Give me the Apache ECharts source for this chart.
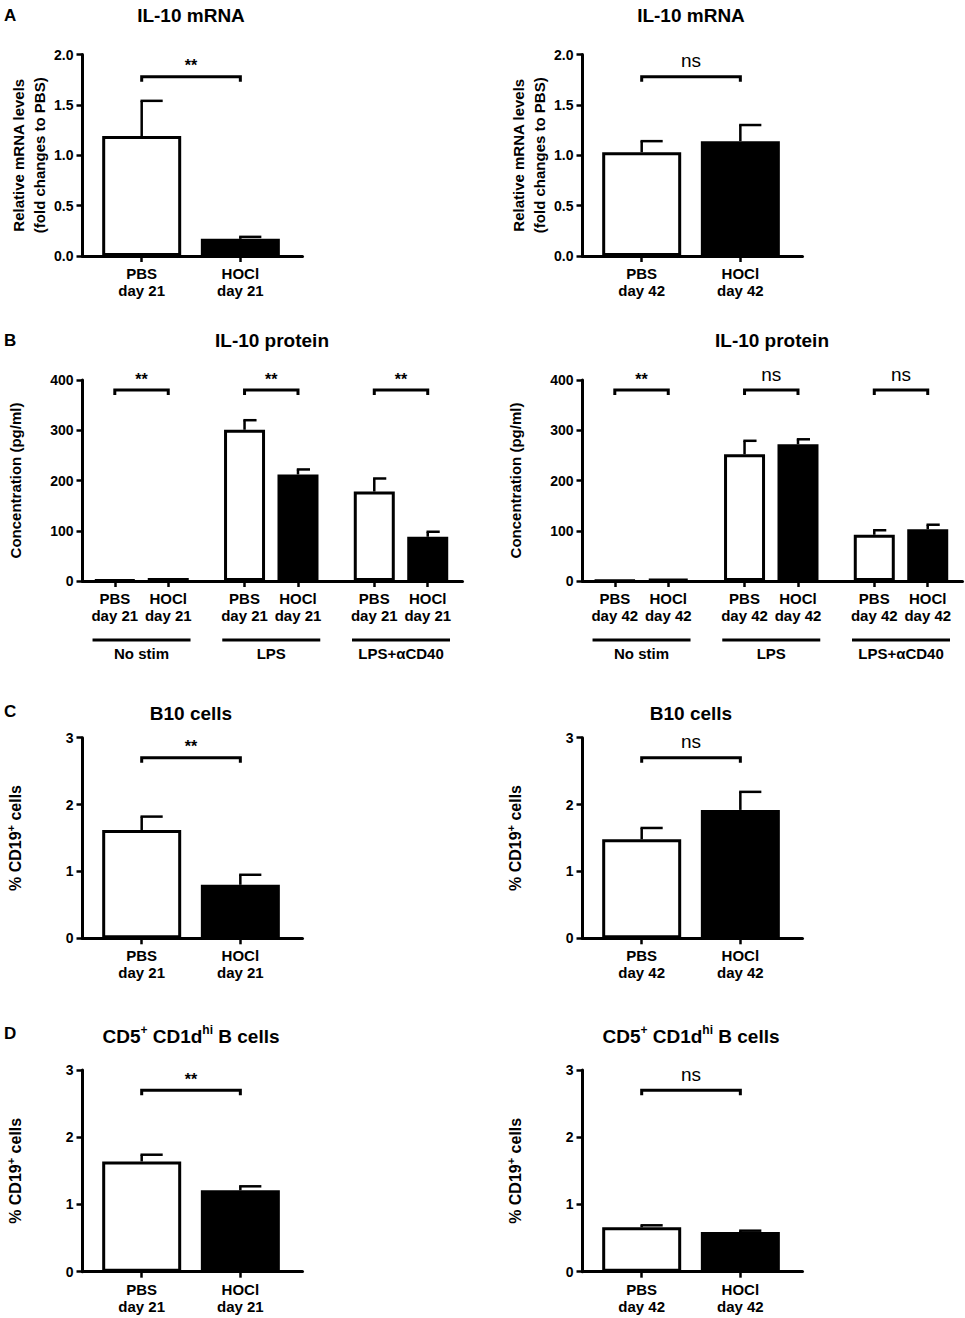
<!DOCTYPE html>
<html>
<head>
<meta charset="utf-8">
<script src="https://cdn.jsdelivr.net/npm/echarts@6/dist/echarts.min.js"></script>
<style>
  html, body { margin: 0; padding: 0; background: #fff; }
  #chart { width: 965px; height: 1318px; }
</style>
</head>
<body>
<div id="chart"></div>
<script>
// ---- data ----
var pairDay21 = ['PBS\nday 21', 'HOCl\nday 21'];
var pairDay42 = ['PBS\nday 42', 'HOCl\nday 42'];
var stimGroups = ['No stim', 'LPS', 'LPS+\u03b1CD40'];

// IL-10 mRNA (mean, mean + SEM)
var mrnaDay21 = [1.19, 0.17];
var mrnaDay21Err = [1.54, 0.19];
var mrnaDay42 = [1.03, 1.14];
var mrnaDay42Err = [1.14, 1.30];

// IL-10 protein, PBS / HOCl per stimulation group
var proteinDay21 = [2, 6, 301, 212, 178, 88];
var proteinDay21Err = [2, 7, 320, 222, 204, 98];
var proteinDay42 = [1, 4, 252, 272, 92, 103];
var proteinDay42Err = [1, 4, 279, 282, 101, 112];

// B10 cells (% CD19+)
var b10Day21 = [1.62, 0.80];
var b10Day21Err = [1.82, 0.95];
var b10Day42 = [1.48, 1.92];
var b10Day42Err = [1.65, 2.19];

// CD5+ CD1dhi B cells (% CD19+)
var cd5Day21 = [1.64, 1.21];
var cd5Day21Err = [1.74, 1.27];
var cd5Day42 = [0.66, 0.59];
var cd5Day42Err = [0.69, 0.61];

// significance marks
var sigMrna = ['**', 'ns'];
var sigProteinDay21 = ['**', '**', '**'];
var sigProteinDay42 = ['**', 'ns', 'ns'];
var sigB10 = ['**', 'ns'];
var sigCd5 = ['**', 'ns'];

var mrnaTicks = [0, 0.5, 1.0, 1.5, 2.0];
var proteinTicks = [0, 100, 200, 300, 400];
var cellTicks = [0, 1, 2, 3];

// ---- chart ----
var FONT = '"Liberation Sans", Arial, sans-serif';
var chart = echarts.init(document.getElementById('chart'), null, { renderer: 'svg' });

var grids = [], xAxes = [], yAxes = [], series = [], graphics = [];

function nearest(arr, v) {
    var best = 0;
    for (var i = 1; i < arr.length; i++) {
        if (Math.abs(arr[i] - v) < Math.abs(arr[best] - v)) best = i;
    }
    return best;
}

function addPanel(p) {
    var gi = grids.length;
    var pos = p.pos;
    grids.push({ left: p.left, top: p.top, width: p.width, height: p.height });

    xAxes.push({
        gridIndex: gi, type: 'value', min: p.xMin, max: p.xMax,
        splitLine: { show: false },
        axisLine: { show: true, onZero: false, lineStyle: { color: '#000', width: 3 } },
        axisTick: { show: true, customValues: pos, length: 6, lineStyle: { color: '#000', width: 2.5 } },
        axisLabel: {
            customValues: pos, margin: 9, color: '#000', fontFamily: FONT,
            fontWeight: 'bold', fontSize: 15, lineHeight: 17,
            formatter: function (v) { return p.labels[nearest(pos, v)]; }
        }
    });

    var ticks = p.ticks;
    yAxes.push({
        gridIndex: gi, type: 'value', min: ticks[0], max: ticks[ticks.length - 1],
        interval: ticks[1] - ticks[0],
        name: p.yName, nameLocation: 'middle', nameRotate: 90, nameGap: p.nameGap,
        nameTextStyle: {
            color: '#000', fontFamily: FONT, fontWeight: 'bold', fontSize: 15, lineHeight: 21,
            rich: {
                n: { fontFamily: FONT, fontWeight: 'bold', fontSize: 16, lineHeight: 19, color: '#000' },
                s: { fontFamily: FONT, fontWeight: 'bold', fontSize: 11, lineHeight: 11, verticalAlign: 'top', color: '#000' }
            }
        },
        splitLine: { show: false },
        axisLine: { show: true, onZero: false, lineStyle: { color: '#000', width: 3 } },
        axisTick: { show: true, length: 6, lineStyle: { color: '#000', width: 2.5 } },
        axisLabel: {
            margin: 9, color: '#000', fontFamily: FONT, fontWeight: 'bold', fontSize: 14,
            formatter: p.yFmt
        }
    });

    // bars: PBS white, HOCl black
    series.push({
        type: 'bar', xAxisIndex: gi, yAxisIndex: gi, barWidth: p.barWidth, z: 2,
        itemStyle: { borderColor: '#000', borderWidth: 3 },
        data: p.mean.map(function (v, i) {
            return { value: [pos[i], v], itemStyle: { color: i % 2 ? '#000' : '#fff' } };
        })
    });

    // SEM bars, upper only with a half cap
    series.push({
        type: 'custom', xAxisIndex: gi, yAxisIndex: gi, z: 3,
        encode: { x: 0, y: [1, 2] },
        data: p.mean.map(function (v, i) { return [pos[i], v, p.err[i]]; }),
        renderItem: function (params, api) {
            var base = api.coord([api.value(0), api.value(1)]);
            var tip = api.coord([api.value(0), api.value(2)]);
            if (base[1] - tip[1] < 1) return;
            return {
                type: 'group',
                children: [
                    { type: 'line', shape: { x1: base[0], y1: base[1], x2: tip[0], y2: tip[1] },
                      style: { stroke: '#000', lineWidth: 2.5 } },
                    { type: 'line', shape: { x1: tip[0] - 1.2, y1: tip[1], x2: tip[0] + p.cap, y2: tip[1] },
                      style: { stroke: '#000', lineWidth: 2.5 } }
                ]
            };
        }
    });

    // significance brackets
    series.push({
        type: 'custom', xAxisIndex: gi, yAxisIndex: gi, z: 3,
        encode: { x: [0, 1], y: 2 },
        data: p.sig.map(function (s, k) { return [pos[2 * k], pos[2 * k + 1], p.sigY]; }),
        renderItem: function (params, api) {
            var a = api.coord([api.value(0), api.value(2)]);
            var b = api.coord([api.value(1), api.value(2)]);
            var txt = p.sig[params.dataIndex];
            var star = txt === '**';
            return {
                type: 'group',
                children: [
                    { type: 'polyline', shape: { points: [[a[0], a[1] + 5], [a[0], a[1]], [b[0], b[1]], [b[0], b[1] + 5]] },
                      style: { stroke: '#000', lineWidth: 3, fill: null } },
                    { type: 'text', x: (a[0] + b[0]) / 2, y: a[1] - (star ? 11 : 16),
                      style: { text: txt, fill: '#000', align: 'center', verticalAlign: 'middle',
                               font: star ? 'bold 16px ' + FONT : 'normal 19px ' + FONT } }
                ]
            };
        }
    });

    // stimulation group underlines and names
    if (p.groups) {
        series.push({
            type: 'custom', xAxisIndex: gi, yAxisIndex: gi, z: 3, clip: false,
            encode: { x: 0, y: 1 },
            data: p.groups.map(function (g, k) { return [k, 0]; }),
            renderItem: function (params, api) {
                var c = api.coord([api.value(0), 0]);
                var half = 49;
                return {
                    type: 'group',
                    children: [
                        { type: 'line', shape: { x1: c[0] - half, y1: c[1] + 59, x2: c[0] + half, y2: c[1] + 59 },
                          style: { stroke: '#000', lineWidth: 3 } },
                        { type: 'text', x: c[0], y: c[1] + 72,
                          style: { text: p.groups[params.dataIndex], fill: '#000', align: 'center',
                                   verticalAlign: 'middle', font: 'bold 15px ' + FONT } }
                    ]
                };
            }
        });
    }
}

function fmt1(v) { return v.toFixed(1); }
function fmt0(v) { return String(v); }

// bar positions in axis units (two bars per panel, or pairs per stimulation group)
var pairPos = [0, 1];
var groupOffset = 0.206;
var groupPos = [];
stimGroups.forEach(function (g, k) { groupPos.push(k - groupOffset, k + groupOffset); });

var mrnaName = 'Relative mRNA levels\n(fold changes to PBS)';
var proteinName = 'Concentration (pg/ml)';
var cellName = '{n|% CD19}{s|+}{n| cells}';

[0, 500].forEach(function (dx, side) {
    var d21 = side === 0;
    addPanel({
        left: 82.5 + dx, top: 54.5, width: 220, height: 201.5,
        xMin: -0.6, xMax: 1.63, pos: pairPos, labels: d21 ? pairDay21 : pairDay42,
        ticks: mrnaTicks, yFmt: fmt1, yName: mrnaName, nameGap: 33,
        mean: d21 ? mrnaDay21 : mrnaDay42, err: d21 ? mrnaDay21Err : mrnaDay42Err,
        barWidth: 79, cap: 21, sig: [sigMrna[side]], sigY: 1.78
    });
    addPanel({
        left: 82.5 + dx, top: 380, width: 380, height: 201,
        xMin: -0.455, xMax: 2.474, pos: groupPos,
        labels: groupPos.map(function (v, i) { return (d21 ? pairDay21 : pairDay42)[i % 2]; }),
        ticks: proteinTicks, yFmt: fmt0, yName: proteinName, nameGap: 57,
        mean: d21 ? proteinDay21 : proteinDay42, err: d21 ? proteinDay21Err : proteinDay42Err,
        barWidth: 41, cap: 12, sig: d21 ? sigProteinDay21 : sigProteinDay42, sigY: 380,
        groups: stimGroups
    });
    addPanel({
        left: 82.5 + dx, top: 737.7, width: 220, height: 200.6,
        xMin: -0.6, xMax: 1.63, pos: pairPos, labels: d21 ? pairDay21 : pairDay42,
        ticks: cellTicks, yFmt: fmt0, yName: cellName, nameGap: 58,
        mean: d21 ? b10Day21 : b10Day42, err: d21 ? b10Day21Err : b10Day42Err,
        barWidth: 79, cap: 21, sig: [sigB10[side]], sigY: 2.7
    });
    addPanel({
        left: 82.5 + dx, top: 1070, width: 220, height: 201.7,
        xMin: -0.6, xMax: 1.63, pos: pairPos, labels: d21 ? pairDay21 : pairDay42,
        ticks: cellTicks, yFmt: fmt0, yName: cellName, nameGap: 58,
        mean: d21 ? cd5Day21 : cd5Day42, err: d21 ? cd5Day21Err : cd5Day42Err,
        barWidth: 79, cap: 21, sig: [sigCd5[side]], sigY: 2.7
    });
});

// panel titles and letters
var titleRich = {
    t: { fontFamily: FONT, fontWeight: 'bold', fontSize: 19, lineHeight: 24, fill: '#000', color: '#000' },
    s: { fontFamily: FONT, fontWeight: 'bold', fontSize: 12, lineHeight: 12, verticalAlign: 'top', fill: '#000', color: '#000' }
};
var titles = [
    { text: '{t|IL-10 mRNA}', y: 15 },
    { text: '{t|IL-10 protein}', y: 340, shift: 81 },
    { text: '{t|B10 cells}', y: 713 },
    { text: '{t|CD5}{s|+}{t| CD1d}{s|hi}{t| B cells}', y: 1036 }
];
titles.forEach(function (t) {
    [191, 691].forEach(function (cx) {
        graphics.push({
            type: 'text', x: cx + (t.shift || 0), y: t.y,
            style: { text: t.text, rich: titleRich, align: 'center', verticalAlign: 'middle' }
        });
    });
});
[['A', 15], ['B', 340], ['C', 711], ['D', 1033]].forEach(function (l) {
    graphics.push({
        type: 'text', x: 4, y: l[1],
        style: { text: l[0], font: 'bold 17px ' + FONT, fill: '#000', verticalAlign: 'middle' }
    });
});

chart.setOption({
    animation: false,
    backgroundColor: '#fff',
    textStyle: { fontFamily: FONT, color: '#000' },
    grid: grids,
    xAxis: xAxes,
    yAxis: yAxes,
    series: series,
    graphic: graphics
});
</script>
</body>
</html>
